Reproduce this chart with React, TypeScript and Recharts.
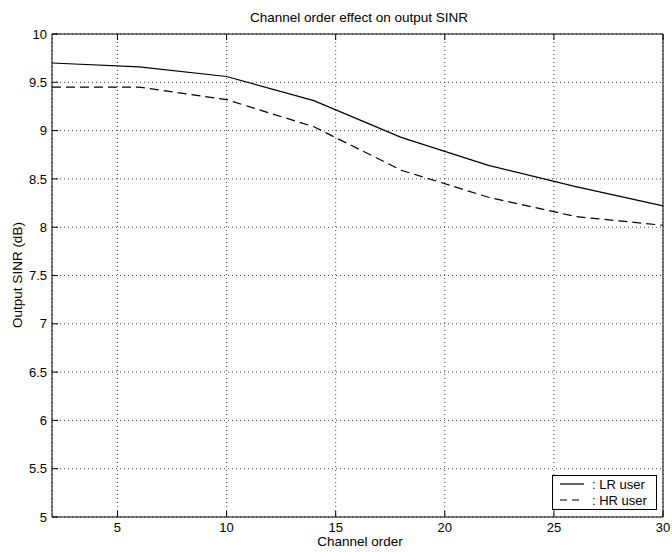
import React from "react";
import { CartesianGrid, Legend, Line, LineChart, XAxis, YAxis } from "recharts";

const channelOrder = [2, 6, 10, 14, 18, 22, 26, 30];
const lrUser = [9.7, 9.66, 9.56, 9.31, 8.93, 8.64, 8.42, 8.22];
const hrUser = [9.45, 9.45, 9.32, 9.04, 8.59, 8.31, 8.11, 8.02];
const xTicks = [5, 10, 15, 20, 25, 30];
const yTicks = [5, 5.5, 6, 6.5, 7, 7.5, 8, 8.5, 9, 9.5, 10];

const data = channelOrder.map((x, i) => ({ x, lr: lrUser[i], hr: hrUser[i] }));

const FONT = "'Liberation Sans', Arial, Helvetica, sans-serif";
const tickStyle = { fill: "#000", fontSize: 13, fontFamily: FONT };

function LegendBox() {
  const row = (dash: string | undefined, label: string) => (
    <div style={{ display: "flex", alignItems: "center", height: 16 }}>
      <svg width={32} height={10} style={{ marginLeft: 5 }}>
        <line x1={2} x2={26} y1={5} y2={5} stroke="#000" strokeWidth={1.2} strokeDasharray={dash} />
      </svg>
      <span style={{ marginLeft: 2 }}>{label}</span>
    </div>
  );
  return (
    <div
      style={{
        width: 103,
        height: 33,
        border: "1px solid #000",
        background: "#fff",
        fontFamily: FONT,
        fontSize: 13,
        color: "#000",
        boxSizing: "content-box",
      }}
    >
      {row(undefined, ": LR user")}
      {row("7 5", ": HR user")}
    </div>
  );
}

export default function App() {
  return (
    <div style={{ position: "absolute", left: 0, top: 0, width: 672, height: 552, background: "#fff" }}>
      <div
        style={{
          position: "absolute",
          left: 0,
          width: 672,
          top: 10,
          textAlign: "center",
          paddingLeft: 46,
          boxSizing: "border-box",
          fontFamily: FONT,
          fontSize: 13.5,
          lineHeight: "16px",
        }}
      >
        Channel order effect on output SINR
      </div>
      <div
        style={{
          position: "absolute",
          left: 52,
          width: 616,
          top: 534,
          textAlign: "center",
          fontFamily: FONT,
          fontSize: 13.5,
          lineHeight: "16px",
        }}
      >
        Channel order
      </div>
      <div
        style={{
          position: "absolute",
          left: 18 - 150,
          top: 275 - 8,
          width: 300,
          textAlign: "center",
          transform: "rotate(-90deg)",
          fontFamily: FONT,
          fontSize: 13.5,
          lineHeight: "16px",
        }}
      >
        Output SINR (dB)
      </div>
      <LineChart
        width={672}
        height={552}
        data={data}
        margin={{ top: 33, right: 8, bottom: 0, left: 0 }}
        style={{ position: "absolute", left: 0, top: 0 }}
      >
        <CartesianGrid stroke="#444" strokeDasharray="1 3" strokeWidth={1} />
        <XAxis
          xAxisId={0}
          dataKey="x"
          type="number"
          domain={[2, 30]}
          ticks={xTicks}
          height={35}
          tickSize={-6}
          tickMargin={12}
          stroke="#000"
          tick={tickStyle}
          interval={0}
        />
        <XAxis
          xAxisId="top"
          orientation="top"
          dataKey="x"
          type="number"
          domain={[2, 30]}
          ticks={xTicks}
          height={1}
          tickSize={-6}
          tickFormatter={() => ""}
          stroke="#000"
        />
        <YAxis
          yAxisId={0}
          type="number"
          domain={[5, 10]}
          ticks={yTicks}
          width={52}
          tickSize={-6}
          tickMargin={11}
          stroke="#000"
          tick={tickStyle}
          interval={0}
        />
        <YAxis
          yAxisId="right"
          orientation="right"
          type="number"
          domain={[5, 10]}
          ticks={yTicks}
          width={1}
          tickSize={-6}
          tickFormatter={() => ""}
          stroke="#000"
        />
        <Legend
          layout="vertical"
          align="center"
          verticalAlign="middle"
          content={() => <LegendBox />}
          wrapperStyle={{ position: "absolute", left: 552, top: 475, width: 105, height: 35 }}
        />
        <Line
          dataKey="lr"
          type="linear"
          stroke="#000"
          strokeWidth={1.2}
          dot={false}
          isAnimationActive={false}
        />
        <Line
          dataKey="hr"
          type="linear"
          stroke="#000"
          strokeWidth={1.2}
          strokeDasharray="9 5"
          dot={false}
          isAnimationActive={false}
        />
      </LineChart>
    </div>
  );
}
